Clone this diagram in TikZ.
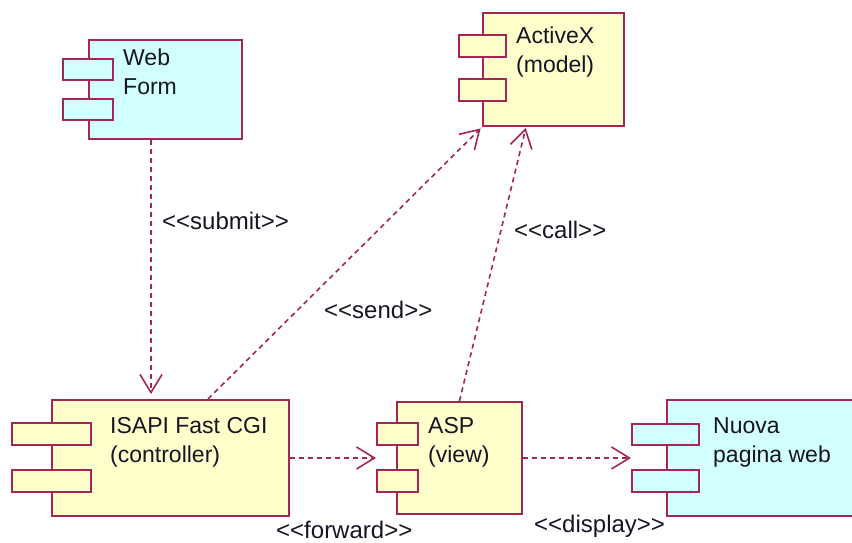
\documentclass[tikz,border=0pt]{standalone}
\usepackage{fontspec}
\setmainfont{Liberation Sans}[Ligatures=TeXOff]
\usetikzlibrary{arrows.meta,calc}

\definecolor{umlborder}{RGB}{163,38,84}
\definecolor{umlyellow}{RGB}{255,255,204}
\definecolor{umlcyan}{RGB}{210,255,255}
\definecolor{umltext}{RGB}{25,20,35}

\tikzset{
  compbox/.style={draw=umlborder, line width=2pt, rectangle, inner sep=0pt},
  yellowcomp/.style={compbox, fill=umlyellow},
  cyancomp/.style={compbox, fill=umlcyan},
  % anchored at the baseline of the last line
  compname/.style={anchor=base west, inner sep=0pt, align=left, text=umltext,
    font=\fontsize{23}{29}\selectfont},
  deplabel/.style={anchor=base west, inner sep=0pt, text=umltext,
    font=\fontsize{24}{29}\selectfont},
  dep/.style={draw=umlborder, line width=1.6pt, dash pattern=on 5pt off 4pt,
    -{Straight Barb[length=18pt,width=22pt,line width=1.6pt]}},
}

\begin{document}
\begin{tikzpicture}[x=1pt,y=-1pt]
  \useasboundingbox (0,0) rectangle (852,543);
  \clip (0,0) rectangle (852,543);

  % Web Form
  \node[cyancomp, minimum width=153pt, minimum height=99pt] (web) at (165.5,89.5) {};
  \node[cyancomp, minimum width=50pt, minimum height=21pt] (webP1) at (88,69.5) {};
  \node[cyancomp, minimum width=50pt, minimum height=21pt] (webP2) at (88,109.5) {};
  \node[compname] (webT) at (123,95) {Web\\Form};

  % ActiveX (model)
  \node[yellowcomp, minimum width=141pt, minimum height=113pt] (ax) at (553.5,69.5) {};
  \node[yellowcomp, minimum width=47pt, minimum height=22pt] (axP1) at (482.5,46) {};
  \node[yellowcomp, minimum width=47pt, minimum height=22pt] (axP2) at (482.5,90) {};
  \node[compname] (axT) at (516,73) {ActiveX\\(model)};

  % ISAPI Fast CGI (controller)
  \node[yellowcomp, minimum width=237pt, minimum height=116pt] (isapi) at (170.5,458) {};
  \node[yellowcomp, minimum width=79pt, minimum height=22pt] (isP1) at (51.5,434) {};
  \node[yellowcomp, minimum width=79pt, minimum height=22pt] (isP2) at (51.5,480.5) {};
  \node[compname] (isT) at (110,462) {ISAPI Fast CGI\\(controller)};

  % ASP (view)
  \node[yellowcomp, minimum width=125pt, minimum height=112pt] (asp) at (459.5,458) {};
  \node[yellowcomp, minimum width=41pt, minimum height=22pt] (aspP1) at (397.5,434) {};
  \node[yellowcomp, minimum width=41pt, minimum height=22pt] (aspP2) at (397.5,481) {};
  \node[compname] (aspT) at (428,462) {ASP\\(view)};

  % Nuova pagina web
  \node[cyancomp, minimum width=213pt, minimum height=116pt] (nuova) at (773.5,458) {};
  \node[cyancomp, minimum width=67pt, minimum height=21pt] (nuP1) at (665.5,434.5) {};
  \node[cyancomp, minimum width=67pt, minimum height=22pt] (nuP2) at (665.5,481) {};
  \node[compname] (nuT) at (713,462) {Nuova\\pagina web};

  % Dependencies
  \draw[dep, shorten >=5pt] ([xshift=-14.5pt]web.south) -- ([xshift=-14.5pt]web.south |- isapi.north);
  \draw[dep, shorten >=2pt] ([xshift=37.5pt]isapi.north) -- (ax.south west);
  \draw[dep, shorten >=1pt] (asp.north) -- ([xshift=-27.5pt]ax.south);
  \draw[dep] (isapi.east) -- (isapi.east -| aspP1.west);
  \draw[dep] (asp.east) -- (asp.east -| nuP1.west);

  % Stereotype labels
  \node[deplabel] (lsubmit) at (162,229) {<<submit>>};
  \node[deplabel] (lsend) at (324,318) {<<send>>};
  \node[deplabel] (lcall) at (514,238) {<<call>>};
  \node[deplabel] (lforward) at (276,538) {<<forward>>};
  \node[deplabel] (ldisplay) at (534,532) {<<display>>};
\end{tikzpicture}
\end{document}
